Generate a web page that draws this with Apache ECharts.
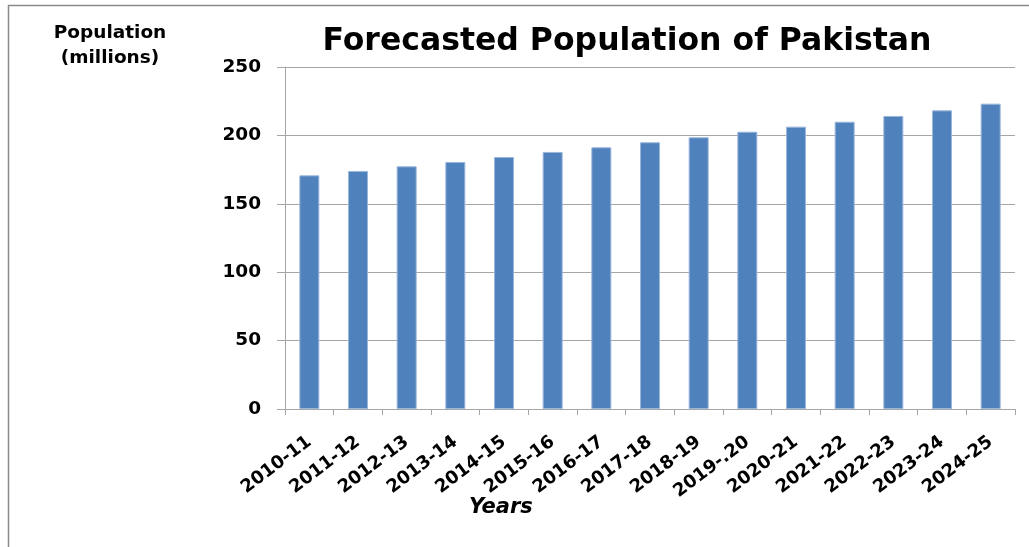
<!DOCTYPE html>
<html>
<head>
<meta charset="utf-8">
<title>Forecasted Population of Pakistan</title>
<script src="https://cdn.jsdelivr.net/npm/echarts@6/dist/echarts.min.js"></script>
<style>
  html, body { margin: 0; padding: 0; background: #ffffff; }
  #chart { width: 1029px; height: 547px; }
</style>
</head>
<body>
<div id="chart"></div>
<script>
// Fiscal years on the category axis
const years = ['2010-11', '2011-12', '2012-13', '2013-14', '2014-15', '2015-16', '2016-17',
  '2017-18', '2018-19', '2019-.20', '2020-21', '2021-22', '2022-23', '2023-24', '2024-25'];

// Forecasted population, millions
const population = [170.8, 174.0, 177.4, 180.6, 184.2, 187.9, 191.3,
  195.0, 198.6, 202.7, 206.4, 210.0, 214.2, 218.3, 223.2];

// Value axis range
const yMin = 0;
const yMax = 250;
const yStep = 50;

const FONT = '"DejaVu Sans", sans-serif';
const chart = echarts.init(document.getElementById('chart'));

chart.setOption({
  animation: false,
  backgroundColor: '#ffffff',
  title: {
    text: 'Forecasted Population of Pakistan',
    left: 622,
    top: 21,
    textAlign: 'center',
    textStyle: { fontFamily: FONT, fontWeight: 'bold', fontSize: 31.5, color: '#000000' }
  },
  graphic: [
    {
      type: 'rect',
      shape: { x: 8.5, y: 5.5, width: 1040, height: 560 },
      style: { fill: 'none', stroke: '#8a8a8a', lineWidth: 1.5 },
      silent: true
    },
    {
      type: 'text',
      x: 110,
      y: 46,
      style: {
        text: 'Population\n(millions)',
        fontFamily: FONT,
        fontWeight: 'bold',
        fontSize: 18.5,
        lineHeight: 25,
        align: 'center',
        verticalAlign: 'middle',
        fill: '#000000'
      }
    },
    {
      type: 'text',
      left: 469,
      top: 497,
      style: {
        text: 'Years',
        fontFamily: FONT,
        fontWeight: 'bold',
        fontStyle: 'italic',
        fontSize: 21,
        fill: '#000000'
      }
    }
  ],
  grid: { left: 285, right: 14, top: 67, bottom: 138, containLabel: false },
  xAxis: {
    type: 'category',
    data: years,
    boundaryGap: true,
    axisLine: { lineStyle: { color: '#a6a6a6', width: 1 } },
    axisTick: { show: true, length: 6, alignWithLabel: false, lineStyle: { color: '#a6a6a6' } },
    axisLabel: {
      interval: 0,
      rotate: 37,
      margin: 31,
      fontFamily: FONT,
      fontWeight: 'bold',
      fontSize: 18,
      color: '#000000'
    },
    splitLine: { show: false }
  },
  yAxis: {
    type: 'value',
    min: yMin,
    max: yMax,
    interval: yStep,
    axisLine: { show: true, lineStyle: { color: '#a6a6a6', width: 1 } },
    axisTick: { show: true, inside: false, length: 8, lineStyle: { color: '#a6a6a6' } },
    axisLabel: {
      margin: 24,
      fontFamily: FONT,
      fontWeight: 'bold',
      fontSize: 18.5,
      color: '#000000'
    },
    splitLine: { show: true, lineStyle: { color: '#a6a6a6', width: 1 } }
  },
  series: [{
    type: 'bar',
    data: population,
    barWidth: 20,
    itemStyle: { color: '#4f81bd', borderColor: '#9ab7dc', borderWidth: 1 }
  }]
});
</script>
</body>
</html>
